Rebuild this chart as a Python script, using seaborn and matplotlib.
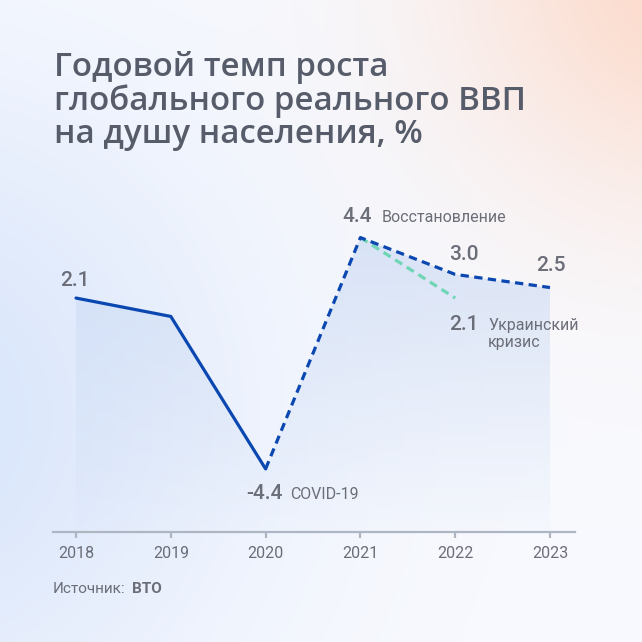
import numpy as np
import matplotlib
matplotlib.use("Agg")
import matplotlib.pyplot as plt
import seaborn as sns

# data
years = [2018, 2019, 2020, 2021, 2022, 2023]
growth = [2.1, 1.4, -4.4, 4.4, 3.0, 2.5]
crisis_years = [2021, 2022]
crisis_growth = [4.4, 2.1]
tick_labels = ["2018", "2019", "2020", "2021", "2022", "2023"]
title_lines = ["Годовой темп роста", "глобального реального ВВП", "на душу населения, %"]
notes = {2020: "COVID-19", 2021: "Восстановление"}
crisis_note = ["Украинский", "кризис"]

sns.set_theme(style="white")
plt.rcParams["font.family"] = ["Roboto", "DejaVu Sans"]

BLUE = "#0b47b0"
TEAL = "#6fd5b5"
GREY = "#6b6e78"
AXIS = "#aeb5c3"

fig = plt.figure(figsize=(6.42, 6.42), dpi=100)

# soft background gradient (blue lower left, peach upper right)
bg = fig.add_axes([0, 0, 1, 1])
yy, xx = np.mgrid[0:1:642j, 0:1:642j]
base = np.array([0.975, 0.98, 0.997])
blue = np.array([0.85, 0.90, 0.985])
peach = np.array([0.99, 0.86, 0.80])
wb = np.exp(-((xx + 0.15) ** 2 + (yy - 0.65) ** 2) / 0.28)
wp = np.exp(-((xx - 1.08) ** 2 + (yy + 0.05) ** 2) / 0.14)
img = base + wb[..., None] * (blue - base) + wp[..., None] * (peach - base)
bg.imshow(np.clip(img, 0, 1), aspect="auto", extent=[0, 1, 0, 1])
bg.axis("off")

ax = fig.add_axes([53 / 642, 1 - 532 / 642, 522 / 642, 332 / 642])
ax.set_facecolor("none")
ax.set_xlim(2017.757, 2023.264)
ax.set_ylim(-6.80, 5.83)

# gradient fill under the main line
ymin = ax.get_ylim()[0]
poly = ax.fill_between(years, growth, ymin, color="none", lw=0)
grad = np.zeros((200, 2, 4))
grad[..., 0] = 0.80
grad[..., 1] = 0.86
grad[..., 2] = 0.96
grad[..., 3] = np.linspace(0.7, 0.05, 200)[:, None]
im = ax.imshow(grad, aspect="auto", extent=[2018, 2023, ymin, max(growth)],
               origin="upper", zorder=1)
im.set_clip_path(poly.get_paths()[0], transform=ax.transData)

sns.lineplot(x=years[:3], y=growth[:3], ax=ax, color=BLUE, linewidth=2.3,
             zorder=4, solid_joinstyle="miter")
sns.lineplot(x=years[2:], y=growth[2:], ax=ax, color=BLUE, linewidth=2.3,
             linestyle=(0, (2.6, 1.7)), zorder=4)
sns.lineplot(x=crisis_years, y=crisis_growth, ax=ax, color=TEAL, linewidth=2.3,
             linestyle=(0, (2.6, 1.7)), zorder=3)

# value labels
num_kw = dict(textcoords="offset pixels", fontsize=15, fontweight="medium",
              color=GREY, va="baseline", ha="center", zorder=5)
word_kw = dict(textcoords="offset pixels", fontsize=11.5, color=GREY,
               va="baseline", ha="left", zorder=5)
offsets = {2018: (-1, 12), 2019: None, 2020: (-1, -30), 2021: (-3, 16),
           2022: (9, 14), 2023: (1, 17)}
for yr, val in zip(years, growth):
    off = offsets[yr]
    if off is None:
        continue
    ax.annotate(f"{val:.1f}", (yr, val), xytext=off, **num_kw)
    if yr in notes:
        ax.annotate(notes[yr], (yr, val), xytext=(25 if yr == 2020 else 21, off[1]),
                    **word_kw)

cx, cy = crisis_years[-1], crisis_growth[-1]
ax.annotate(f"{cy:.1f}", (cx, cy), xytext=(9, -32), **num_kw)
ax.annotate(crisis_note[0], (cx, cy), xytext=(33, -32), **word_kw)
ax.annotate(crisis_note[1], (cx, cy), xytext=(33, -49), **word_kw)

# axis styling
sns.despine(ax=ax, left=True)
ax.spines["bottom"].set_color(AXIS)
ax.spines["bottom"].set_linewidth(1.6)
ax.set_xticks(years)
ax.set_xticklabels(tick_labels)
ax.set_yticks([])
ax.tick_params(axis="x", bottom=True, length=4, width=1.6, color=AXIS,
               labelsize=11.5, labelcolor=GREY, pad=6)
ax.set_xlabel("")
ax.set_ylabel("")

# title
for i, line in enumerate(title_lines):
    fig.text(54 / 642, 1 - (76 + 33.5 * i) / 642, line, fontsize=23.8,
             fontweight="semibold", color="#575c6a",
             family=["Open Sans", "DejaVu Sans"], va="baseline", ha="left")

fig.text(53 / 642, 1 - 593 / 642, "Источник:", fontsize=11, color=GREY,
         va="baseline", ha="left")
fig.text(132 / 642, 1 - 593 / 642, "ВТО", fontsize=11, color=GREY,
         fontweight="bold", va="baseline", ha="left")

fig.savefig("out.png", dpi=100)
